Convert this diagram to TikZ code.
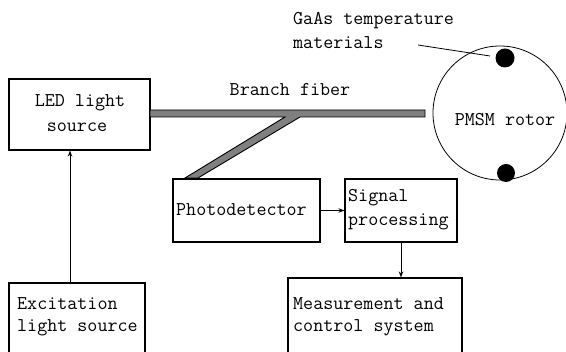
\documentclass[tikz,border=0pt]{standalone}
\usepackage{fontspec}
\usetikzlibrary{arrows.meta}
\begin{document}
\begin{tikzpicture}[x=1pt,y=-1pt,
  box/.style={draw,line width=1.1pt,rectangle,inner sep=0pt},
  lbl/.style={inner sep=0pt,anchor=west,font=\ttfamily\fontsize{19.5}{22}\selectfont},
  clbl/.style={inner sep=0pt,font=\ttfamily\fontsize{19.5}{22}\selectfont},
  arr/.style={line width=1pt,-{Stealth[length=6pt,width=4.5pt]}},
  dot/.style={circle,fill=black,inner sep=0pt,minimum size=19pt}]
\useasboundingbox (0,0) rectangle (566,352);
% boxes
\node[box,minimum width=141pt,minimum height=71pt] (led) at (79.5,114.5) {};
\node[box,minimum width=136pt,minimum height=90pt] (exc) at (77,328) {};
\node[box,minimum width=147pt,minimum height=63pt] (pd) at (246.5,210.5) {};
\node[box,minimum width=112pt,minimum height=63pt] (sp) at (401,210.5) {};
\node[box,minimum width=174pt,minimum height=94pt] (ms) at (375,325) {};
% rotor
\node[draw,circle,line width=0.8pt,minimum size=134pt,inner sep=0pt] (rotor) at (500,113) {};
\node[dot] (d1) at (505,58) {};
\node[dot,minimum size=18pt] (d2) at (506,173) {};
% fiber
\draw[line width=0.9pt,fill=gray] (150,110) -- (425,110) -- (425,117) -- (300,117)
  -- (198,178) -- (185,178) -- (285,117) -- (150,117) -- cycle;
% texts
\node[clbl] (t1) at (80,103) {LED light};
\node[clbl] (t2) at (77,127) {source};
\node[clbl] (t3) at (290,90) {Branch fiber};
\node[lbl] (t4) at (293,21) {GaAs temperature};
\node[lbl] (t5) at (293,43) {materials};
\node[clbl] (t6) at (505,120) {PMSM rotor};
\node[lbl] (t7) at (176,210) {Photodetector};
\node[lbl] (t8) at (348,198) {Signal};
\node[lbl] (t9) at (348,222) {processing};
\node[lbl] (t10) at (17,304) {Excitation};
\node[lbl] (t11) at (17,328) {light source};
\node[lbl] (t12) at (293,304) {Measurement and};
\node[lbl] (t13) at (293,328) {control system};
% leader
\coordinate (ls) at (418,45);
\coordinate (le) at (490,56);
\draw[line width=0.8pt] (ls) -- (le);
% arrows
\coordinate (ax) at (70,0);
\draw[arr] (exc.north -| ax) -- (led.south -| ax);
\draw[arr] (pd.east) -- (sp.west);
\draw[arr] (sp.south) -- (ms.north -| sp.south);
\end{tikzpicture}
\end{document}
